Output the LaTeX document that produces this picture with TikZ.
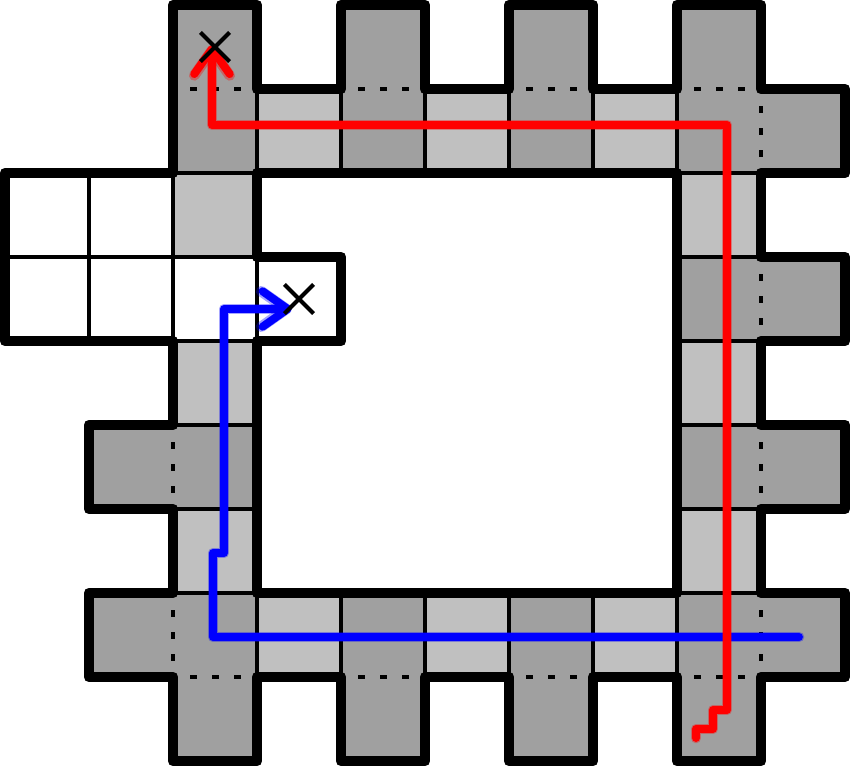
\documentclass[tikz,border=0pt]{standalone}
\usetikzlibrary{arrows.meta,shapes.misc}
\definecolor{darkcell}{RGB}{160,160,160}
\definecolor{lightcell}{RGB}{192,192,192}
\definecolor{pathred}{RGB}{255,0,0}
\definecolor{pathblue}{RGB}{0,0,255}
\begin{document}
\begin{tikzpicture}[
  darkfill/.style={fill=darkcell},
  lightfill/.style={fill=lightcell},
  thinline/.style={line width=1.1pt, black},
  dotline/.style={line width=1.2pt, black, dash pattern=on 2.3pt off 5.2pt, dash phase=1.7pt},
  thickline/.style={line width=3.7pt, black, line join=round, line cap=round},
  glow/.style={line width=3.6pt, opacity=0.35, line cap=round, line join=round,
    -{Straight Barb[length=8.5pt,width=12pt,round]}},
  core/.style={line width=2.7pt, line cap=round, line join=round,
    -{Straight Barb[length=8.5pt,width=12pt,round]}},
  target/.style={draw, cross out, line width=1.35pt, minimum size=0.3cm, inner sep=0pt}
]
\useasboundingbox (-0.0595,0.0595) rectangle (10.0595,-9.0595);

% cell fills
\foreach \c/\r in {2/0,4/0,6/0,8/0,9/1,9/3,9/5,9/7,1/5,1/7,2/8,4/8,6/8,8/8,
                   2/1,4/1,6/1,8/1,8/3,8/5,8/7,6/7,4/7,2/7,2/5}
  \fill[darkfill] (\c,-\r) rectangle ++(1,-1);
\foreach \c/\r in {3/1,5/1,7/1,8/2,8/4,8/6,7/7,5/7,3/7,2/6,2/4,2/2}
  \fill[lightfill] (\c,-\r) rectangle ++(1,-1);

% thin inner lines
\foreach \x in {3,...,8} {
  \draw[thinline] (\x,-1) -- (\x,-2);
  \draw[thinline] (\x,-7) -- (\x,-8);
}
\foreach \y in {2,...,7} {
  \draw[thinline] (2,-\y) -- (3,-\y);
  \draw[thinline] (8,-\y) -- (9,-\y);
}
\draw[thinline] (1,-2) -- (1,-4);
\draw[thinline] (2,-2) -- (2,-4);
\draw[thinline] (0,-3) -- (2,-3);
\draw[thinline] (3,-3) -- (3,-4);

% dotted joints of tabs
\foreach \c in {2,4,6,8} {
  \draw[dotline] (\c,-1) -- (\c+1,-1);
  \draw[dotline] (\c,-8) -- (\c+1,-8);
}
\foreach \r in {5,7}
  \draw[dotline] (2,-\r) -- (2,-\r-1);
\foreach \r in {1,3,5,7}
  \draw[dotline] (9,-\r) -- (9,-\r-1);

% thick outlines
\draw[thickline] (2,0) -- (3,0) -- (3,-1) -- (4,-1) -- (4,0) -- (5,0) -- (5,-1)
  -- (6,-1) -- (6,0) -- (7,0) -- (7,-1) -- (8,-1) -- (8,0) -- (9,0) -- (9,-1)
  -- (10,-1) -- (10,-2) -- (9,-2) -- (9,-3) -- (10,-3) -- (10,-4) -- (9,-4)
  -- (9,-5) -- (10,-5) -- (10,-6) -- (9,-6) -- (9,-7) -- (10,-7) -- (10,-8)
  -- (9,-8) -- (9,-9) -- (8,-9) -- (8,-8) -- (7,-8) -- (7,-9) -- (6,-9)
  -- (6,-8) -- (5,-8) -- (5,-9) -- (4,-9) -- (4,-8) -- (3,-8) -- (3,-9)
  -- (2,-9) -- (2,-8) -- (1,-8) -- (1,-7) -- (2,-7) -- (2,-6) -- (1,-6)
  -- (1,-5) -- (2,-5) -- (2,-4) -- (0,-4) -- (0,-2) -- (2,-2) -- cycle;
\draw[thickline] (3,-2) -- (8,-2) -- (8,-7) -- (3,-7) -- (3,-4) -- (4,-4)
  -- (4,-3) -- (3,-3) -- cycle;

% path end points
\coordinate (bstart) at (9.452,-7.524);
\coordinate (bend) at (3.413,-3.619);
\coordinate (rstart) at (8.226,-8.726);
\coordinate (rend) at (2.464,-0.476);

% blue path
\foreach \sty in {glow,core}
  \draw[\sty, pathblue] (bstart) -- (2.476,-7.524) -- (2.476,-6.524)
    -- (2.607,-6.524) -- (2.607,-3.619) -- (bend);

% red path
\foreach \sty in {glow,core}
  \draw[\sty, pathred] (rstart) -- (8.226,-8.619) -- (8.429,-8.619)
    -- (8.429,-8.393) -- (8.595,-8.393) -- (8.595,-1.429) -- (2.464,-1.429) -- (rend);

% targets
\node[target] (t1) at (2.5,-0.5) {};
\node[target] (t2) at (3.5,-3.5) {};
\end{tikzpicture}
\end{document}
